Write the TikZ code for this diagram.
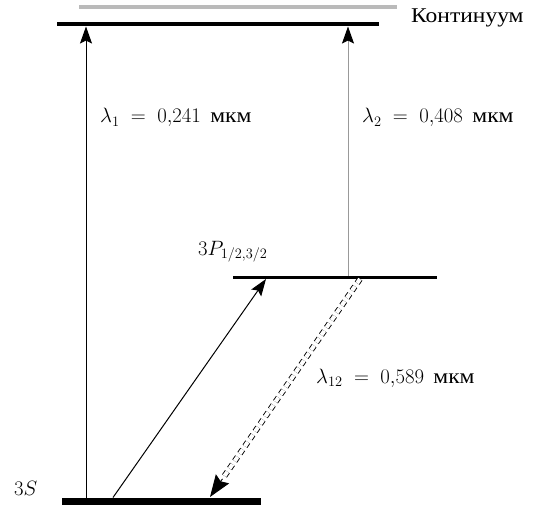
\documentclass[tikz,border=0pt]{standalone}
\usepackage{fontspec}
\setmainfont{Liberation Serif}
\newfontfamily\cyrfont{Liberation Serif}[FakeStretch=1.12]
\newcommand{\cyrtxt}[1]{{\fontsize{21}{24}\cyrfont #1}}
\usetikzlibrary{arrows.meta,calc}
\begin{document}
\begin{tikzpicture}[x=1pt,y=-1pt,
  font=\fontsize{22}{26}\selectfont,
  lbl/.style={anchor=base west,inner sep=0pt},
  wl/.style={lbl,font=\fontsize{22.5}{26}\selectfont},
  lvl/.style={line width=4pt},
  arr/.style={-{Stealth[length=17pt,width=12pt,inset=3pt]}, line width=1pt},
  garr/.style={draw=gray!80,-{Stealth[length=17pt,width=12pt,inset=3pt,color=black]}, line width=1pt},
  dbl/.style={dashed,dash pattern=on 5pt off 4pt,double,double distance=4pt,line width=0.9pt},
  head/.style={-{Stealth[length=22pt,width=16pt,inset=3pt]}, line width=0.9pt}]
\useasboundingbox (0,0) rectangle (536,508);
% levels
\coordinate (cL) at (79,7);   \coordinate (cR) at (397,7);
\coordinate (tL) at (57,24.5); \coordinate (tR) at (379,24.5);
\coordinate (pL) at (233,277.5); \coordinate (pR) at (437,277.5);
\coordinate (sL) at (62,501); \coordinate (sR) at (261,501);
\draw[line width=3.5pt,draw=black!27] (cL) -- (cR);
\draw[lvl] (tL) -- (tR);
\draw[line width=3.3pt] (pL) -- (pR);
\draw[line width=7pt] (sL) -- (sR);
% arrow end points
\coordinate (a1s) at (86,497.5); \coordinate (a1e) at (86,26.5);
\coordinate (a2s) at (348,276); \coordinate (a2e) at (348,26.5);
\coordinate (a3s) at (113,497.5); \coordinate (a3e) at (266,279);
\coordinate (d1) at (360,279); \coordinate (d2) at (210,497);
\coordinate (dh) at ($(d2)!22pt!(d1)$);
\draw[arr] (a1s) -- (a1e);
\draw[garr] (a2s) -- (a2e);
\draw[arr] (a3s) -- (a3e);
\draw[dbl] (d1) -- (dh);
\draw[head] (dh) -- (d2);
% labels
\node[lbl] (cont) at (411,23) {\cyrtxt{Континуум}};
\node[wl] (l1) at (100,123) {$\lambda_1\ =\ 0{,}241$\ \,\cyrtxt{мкм}};
\node[wl] (l2) at (362,123) {$\lambda_2\ =\ 0{,}408$\ \,\cyrtxt{мкм}};
\node[wl] (l12) at (316,383) {$\lambda_{12}\ =\ 0{,}589$\ \,\cyrtxt{мкм}};
\node[lbl] (p) at (198,255) {$3P_{1/2,3/2}$};
\node[lbl] (s) at (14,495) {$3S$};
\end{tikzpicture}
\end{document}
